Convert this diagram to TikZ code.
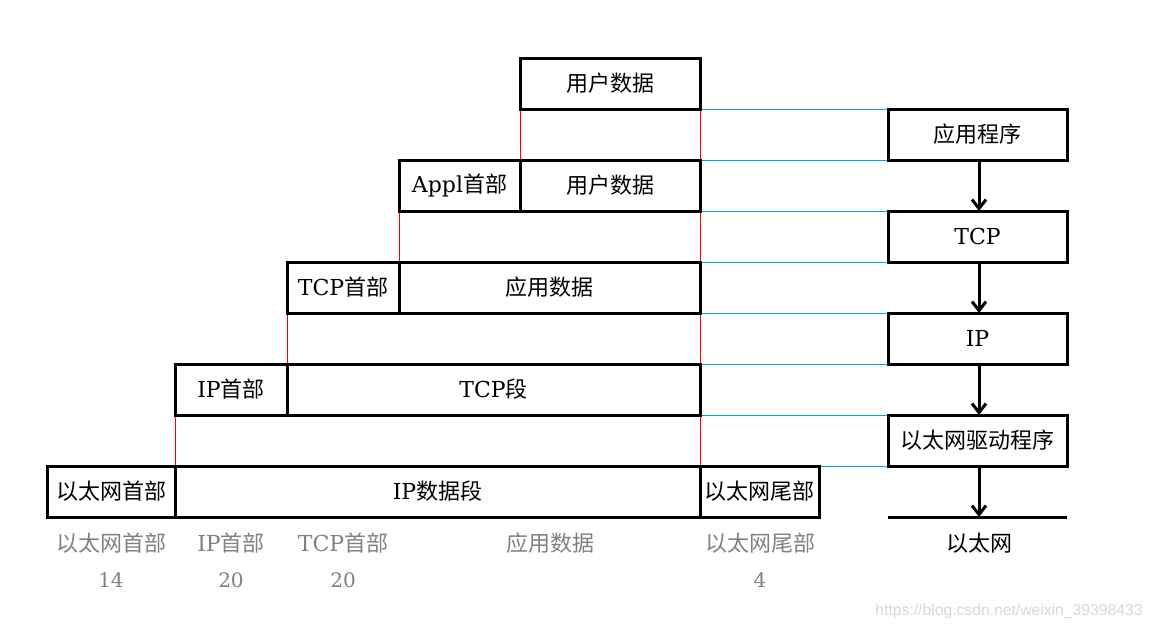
\documentclass[tikz,border=0pt]{standalone}
\usepackage{fontspec}
\setmainfont{DejaVu Serif}
\newfontfamily\cjk{Noto Sans CJK SC}
\newfontfamily\wmfont{Liberation Sans}
\usetikzlibrary{arrows.meta,backgrounds}
\definecolor{linkblue}{RGB}{0,162,232}
\definecolor{labgray}{RGB}{128,128,128}
\definecolor{wmgray}{RGB}{215,215,215}
\tikzset{
  box/.style={draw=black,line width=3pt,inner sep=0pt,outer sep=0pt,minimum height=51pt,font=\fontsize{22}{26}\selectfont},
  bluel/.style={draw=linkblue,line width=1pt},
  redl/.style={draw=red,line width=1pt},
  flow/.style={draw=black,line width=3pt,-{Straight Barb[length=9pt,width=14pt,line width=3pt]}},
  lab/.style={text=labgray,inner sep=0pt,font=\fontsize{22}{26}\selectfont},
  num/.style={text=labgray,inner sep=0pt,font=\fontsize{20}{24}\selectfont},
}
\begin{document}
\begin{tikzpicture}[x=1pt,y=-1pt]
\useasboundingbox (0,0) rectangle (1153,630);
% row 1
\node[box,minimum width=180pt] (u1) at (610,83.5) {\cjk 用户数据};
% row 2
\node[box,minimum width=121pt] (appl) at (459.5,185.5) {Appl{\cjk 首部}};
\node[box,minimum width=180pt] (u2) at (610,185.5) {\cjk 用户数据};
% row 3
\node[box,minimum width=112pt] (tcph) at (343,287.5) {TCP{\cjk 首部}};
\node[box,minimum width=301pt] (app) at (549.5,287.5) {\cjk 应用数据};
% row 4
\node[box,minimum width=112pt] (iph) at (231,389.5) {IP{\cjk 首部}};
\node[box,minimum width=413pt] (tcps) at (493.5,389.5) {TCP{\cjk 段}};
% row 5
\node[box,minimum width=128pt] (eth) at (111,491.5) {\cjk 以太网首部};
\node[box,minimum width=525pt] (ipd) at (437.5,491.5) {IP{\cjk 数据段}};
\node[box,minimum width=119pt] (etht) at (759.5,491.5) {\cjk 以太网尾部};
% right column
\node[box,minimum width=179pt] (apps) at (977.5,134.5) {\cjk 应用程序};
\node[box,minimum width=179pt] (tcp) at (977.5,236.5) {TCP};
\node[box,minimum width=179pt] (ip) at (977.5,338.5) {IP};
\node[box,minimum width=179pt] (drv) at (977.5,440.5) {\cjk 以太网驱动程序};
\coordinate (netl) at (888,517);
\coordinate (netr) at (1067,517);
\coordinate (netm) at (979,517);
\draw[line width=3pt] (netl) -- (netr);
\node[inner sep=0pt,font=\fontsize{22}{26}\selectfont] (net) at (979,543) {\cjk 以太网};
% arrows
\draw[flow] (apps.south -| netm) -- (tcp.north -| netm);
\draw[flow] (tcp.south -| netm) -- (ip.north -| netm);
\draw[flow] (ip.south -| netm) -- (drv.north -| netm);
\draw[flow] (drv.south -| netm) -- (netm);
% thin lines
\begin{scope}[on background layer]
\draw[bluel] (u1.south east) -- (apps.north west);
\draw[bluel] (u2.north east) -- (apps.south west);
\draw[bluel] (u2.south east) -- (tcp.north west);
\draw[bluel] (app.north east) -- (tcp.south west);
\draw[bluel] (app.south east) -- (ip.north west);
\draw[bluel] (tcps.north east) -- (ip.south west);
\draw[bluel] (tcps.south east) -- (drv.north west);
\draw[bluel] (etht.north east) -- (drv.south west);
\draw[redl] (u1.south west) -- (u2.north west);
\draw[redl] (u1.south east) -- (u2.north east);
\draw[redl] (appl.south west) -- (app.north west);
\draw[redl] (u2.south east) -- (app.north east);
\draw[redl] (tcph.south west) -- (tcps.north west);
\draw[redl] (app.south east) -- (tcps.north east);
\draw[redl] (iph.south west) -- (ipd.north west);
\draw[redl] (tcps.south east) -- (etht.north west);
\end{scope}
% bottom labels
\node[lab] (l1) at (111,543) {\cjk 以太网首部};
\node[lab] (l2) at (231,543) {IP{\cjk 首部}};
\node[lab] (l3) at (343,543) {TCP{\cjk 首部}};
\node[lab] (l4) at (550,543) {\cjk 应用数据};
\node[lab] (l5) at (760,543) {\cjk 以太网尾部};
\node[num] (n1) at (111,580) {14};
\node[num] (n2) at (231,580) {20};
\node[num] (n3) at (343,580) {20};
\node[num] (n4) at (760,580) {4};
% watermark
\node[text=wmgray,inner sep=0pt,font=\wmfont\fontsize{15.7}{18}\selectfont] (wm) at (1009,611) {https://blog.csdn.net/weixin\_39398433};
\end{tikzpicture}
\end{document}
